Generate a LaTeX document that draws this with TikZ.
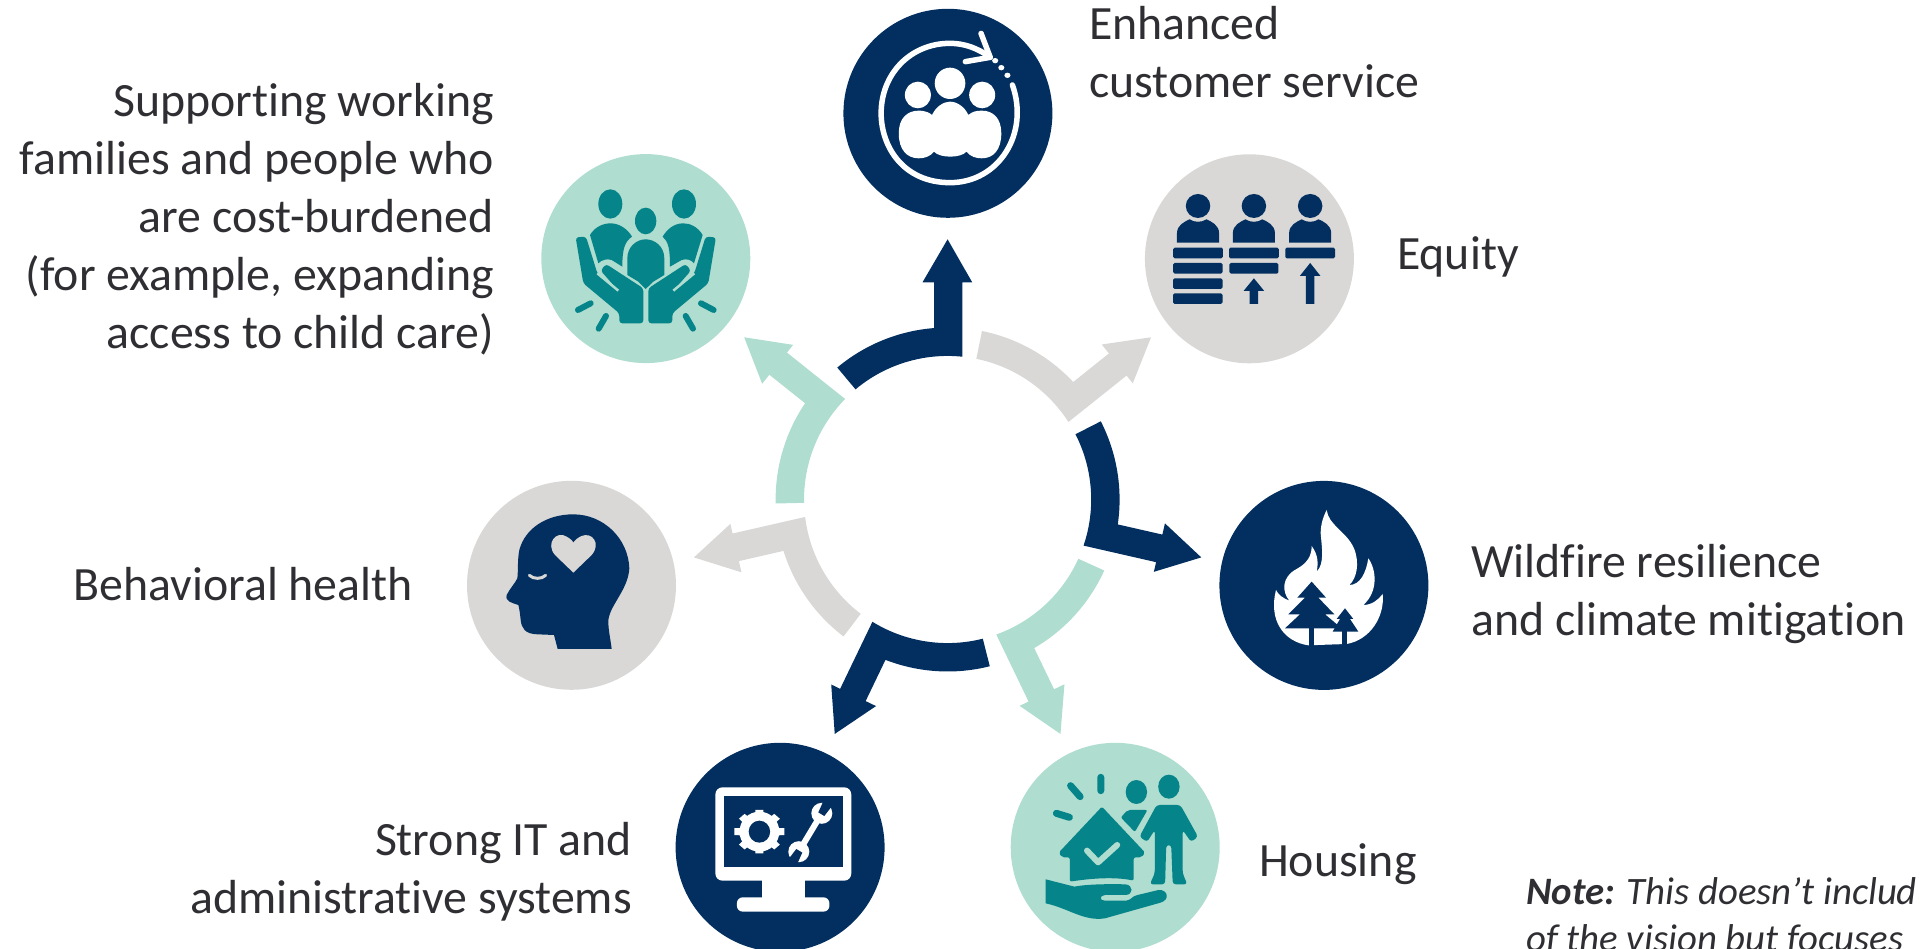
\documentclass[tikz,border=0pt]{standalone}
\usepackage{fontspec}
\setmainfont{Carlito}[RawFeature={-liga;-clig;-dlig}]
\definecolor{navy}{HTML}{022F5F}
\definecolor{mint}{HTML}{AFDDD0}
\definecolor{stone}{HTML}{D9D8D6}
\definecolor{deepteal}{HTML}{05848A}
\definecolor{inkc}{HTML}{2F2E33}
\tikzset{
  disc/.style={circle,inner sep=0pt,minimum size=209pt,fill=#1},
  lbl/.style={text=inkc,font=\fontsize{47.8}{58}\selectfont,inner sep=0pt,align=left},
  lblr/.style={text=inkc,font=\fontsize{47.8}{58}\selectfont,inner sep=0pt,align=right},
  notetext/.style={text=inkc,font=\fontsize{38.8}{47}\selectfont\itshape,inner sep=0pt,align=left},
  zoomA/.style={shift={(800,0)},xscale=0.3827,yscale=0.3333},
  zoomB/.style={shift={(480,120)},xscale=0.3333,yscale=0.3333},
  zoomC/.style={shift={(640,730)},xscale=0.3827,yscale=0.3333},
  zoomD/.style={shift={(1200,470)},xscale=0.3333,yscale=0.3333},
  zoomE/.style={shift={(460,480)},xscale=0.3333,yscale=0.3333},
}
\newcommand{\ringarrow}[2]{%
  \begin{scope}[shift={(947.6,-499.5)},rotate=#1]
    \fill[#2] (129.9:172) arc[start angle=129.9,end angle=94.53,radius=172]
      -- (-13.6,217.2) -- (-25.1,217.2) -- (0,260.2) -- (24.6,217.2) -- (14.7,217.2)
      -- (14.7,142.8) arc[start angle=84.1,end angle=129.9,radius=143.5] -- cycle;
  \end{scope}}
\begin{document}
\begin{tikzpicture}[x=1pt,y=1pt]
\useasboundingbox (0,0) rectangle (1921,-949);
\clip (0,0) rectangle (1921,-949);
% ring arrows
\ringarrow{0}{navy}
\ringarrow{-51.43}{stone}
\ringarrow{-102.86}{navy}
\ringarrow{-154.29}{mint}
\ringarrow{-205.71}{navy}
\ringarrow{-257.14}{stone}
\ringarrow{-308.57}{mint}
% discs
\node[disc=navy]  (service)  at (947.9,-113.3) {};
\node[disc=stone] (equity)   at (1249.4,-258.8) {};
\node[disc=navy]  (wildfire) at (1323.9,-585.4) {};
\node[disc=mint]  (housing)  at (1115.2,-847.3) {};
\node[disc=navy]  (it)       at (780.1,-847.3) {};
\node[disc=stone] (health)   at (571.5,-585.3) {};
\node[disc=mint]  (family)   at (645.8,-258.6) {};
% labels
\node[lbl,anchor=north west] (lservice) at (1089,-6) {Enhanced\\customer service};
\node[lbl,anchor=base west] (lequity) at (1397,-270) {Equity};
\node[lbl,anchor=north west] (lwild) at (1471,-544) {Wildfire resilience\\and climate mitigation};
\node[lbl,anchor=base west] (lhouse) at (1259,-876) {Housing};
\node[lblr,anchor=north east] (lit) at (632,-822) {Strong IT and\\administrative systems};
\node[lbl,anchor=base west] (lhealth) at (73.5,-600) {Behavioral health};
\node[lblr,anchor=north east] (lfam) at (494,-83) {Supporting working\\families and people who\\are cost-burdened\\(for example, expanding\\access to child care)};
\node[notetext,anchor=north west] (note) at (1526,-877) {\textbf{Note:} This doesn’t includ\\of the vision but focuses};
% icons in pixel coordinates
\begin{scope}[yscale=-1]
  % --- enhanced customer service
  \begin{scope}[zoomA]
    \draw[white,line width=5.5pt,line cap=round] (555,255) .. controls (600,400) and (520,548) .. (392,548)
      .. controls (270,548) and (212,440) .. (212,340) .. controls (212,220) and (290,130) .. (392,130)
      .. controls (430,130) and (465,145) .. (497,172);
    \draw[white,line width=5.5pt,line cap=round,line join=round] (473,100) -- (497,172) -- (432,185);
    \fill[white] (510,182) ellipse[x radius=8,y radius=8] (526,203) ellipse[x radius=8,y radius=8] (542,226) ellipse[x radius=8,y radius=8];
    \fill[white] (392,250) ellipse[x radius=40,y radius=47];
    \fill[white] (308,285) ellipse[x radius=34,y radius=40];
    \fill[white] (476,285) ellipse[x radius=34,y radius=40];
    \fill[white] (258,400) .. controls (258,355) and (280,332) .. (310,332) .. controls (330,332) and (340,340) .. (345,345)
      .. controls (355,320) and (375,305) .. (392,305) .. controls (410,305) and (430,320) .. (440,345)
      .. controls (450,335) and (460,332) .. (475,332) .. controls (505,332) and (526,355) .. (526,400)
      .. controls (526,450) and (505,475) .. (475,475) .. controls (460,475) and (445,470) .. (435,455)
      .. controls (420,475) and (365,475) .. (350,455) .. controls (340,470) and (325,475) .. (310,475)
      .. controls (280,475) and (258,450) .. (258,400) -- cycle;
  \end{scope}
  % --- equity
  \begin{scope}[zoomA,navy]
    \foreach \p in {1040,1186,1333}{
      \fill[navy] (\p,618) ellipse[x radius=32,y radius=36];
      \fill[navy] (\p-55,728) -- (\p-55,700) .. controls (\p-55,675) and (\p-35,665) .. (\p-22,658)
        .. controls (\p-10,668) and (\p+10,668) .. (\p+22,658) .. controls (\p+35,665) and (\p+55,675) .. (\p+55,700) -- (\p+55,728) -- cycle;
      \fill[navy,rounded corners=1.5pt] (\p-65,743) rectangle (\p+65,775);
    }
    \fill[navy,rounded corners=1.5pt] (975,789) rectangle (1104,821);
    \fill[navy,rounded corners=1.5pt] (975,835) rectangle (1104,867);
    \fill[navy,rounded corners=1.5pt] (975,880) rectangle (1104,912);
    \fill[navy,rounded corners=1.5pt] (1122,789) rectangle (1250,821);
    \fill[navy] (1186,835) -- (1213,873) -- (1197,873) -- (1197,912) -- (1175,912) -- (1175,873) -- (1159,873) -- cycle;
    \fill[navy] (1333,789) -- (1360,828) -- (1344,828) -- (1344,912) -- (1322,912) -- (1322,828) -- (1306,828) -- cycle;
  \end{scope}
  % --- families
  \begin{scope}[zoomB]
    \fill[deepteal] (391,252) ellipse[x radius=36,y radius=44];
    \fill[deepteal] (612,252) ellipse[x radius=36,y radius=44];
    \fill[deepteal] (497,303) ellipse[x radius=32,y radius=40];
    \fill[deepteal] (330,345) .. controls (345,320) and (370,310) .. (392,310) .. controls (420,310) and (445,330) .. (456,350)
      .. controls (435,365) and (427,385) .. (427,440) -- (395,420) .. controls (380,415) and (365,420) .. (355,430) -- cycle;
    \fill[deepteal] (668,345) .. controls (653,320) and (630,310) .. (610,310) .. controls (580,310) and (560,330) .. (548,350)
      .. controls (565,365) and (570,385) .. (570,440) -- (605,420) .. controls (620,415) and (635,420) .. (642,430) -- cycle;
    \fill[deepteal] (442,465) -- (442,415) .. controls (442,380) and (470,358) .. (497,358) .. controls (525,358) and (553,380) .. (553,415)
      -- (553,465) -- (520,485) -- (497,507) -- (475,485) -- cycle;
    \foreach \s/\o in {1/0,-1/995}{
      \begin{scope}[shift={(\o,0)},xscale=\s]
        \fill[deepteal,rounded corners=3pt] (287,352) -- (318,350) -- (352,460) -- (415,512) -- (362,452) -- (378,432) -- (490,505) -- (490,610) -- (418,610) -- (418,580) -- (310,490) -- cycle;
        \draw[mint,line width=2.5pt] (352,460) -- (415,512);
        \draw[deepteal,line width=6pt,line cap=round] (294,570) -- (332,550) (356,626) -- (378,588);
      \end{scope}}
  \end{scope}
  % --- IT
  \begin{scope}[zoomC]
    \fill[white,rounded corners=7pt] (197,172) rectangle (552,452);
    \fill[navy] (219,198) rectangle (530,410);
    \fill[white] (318,445) rectangle (430,510);
    \fill[white,rounded corners=6pt] (253,545) -- (253,502) -- (495,502) -- (495,545) -- cycle;
    \fill[white] (312,305) ellipse[x radius=52,y radius=60];
    \foreach \a in {0,45,...,315}{
      \fill[white] (312,305) ++(\a-9:66) -- ++(0:0) -- ([shift={(312,305)}]\a+9:66) -- ([shift={(312,305)}]\a+14:46) -- ([shift={(312,305)}]\a-14:46) -- cycle;
    }
    \fill[navy] (312,305) ellipse[x radius=28,y radius=33];
    \draw[white,line width=6pt] (415,365) -- (475,250);
  \end{scope}
  \fill[white] (821.8,813.3) circle[radius=10.5];
  \fill[white] (798.8,851.7) circle[radius=10.5];
  \fill[navy] (824.3,816) -- (818.3,812.4) -- (823.7,800.4) -- (832.3,805.6) -- cycle;
  \fill[navy] (802.3,852.6) -- (796.3,849) -- (788.3,859.4) -- (796.9,864.6) -- cycle;
  % --- housing
  \begin{scope}[zoomC]
    \draw[deepteal,line width=7pt,line cap=round] (1204,142) -- (1204,182) (1125,167) -- (1150,200) (1088,250) -- (1122,262);
    \fill[deepteal] (1297,186) ellipse[x radius=28,y radius=36];
    \fill[deepteal] (1382,170) ellipse[x radius=28,y radius=36];
    \fill[deepteal,rounded corners=2pt] (1256,262) -- (1275,240) -- (1326,240) -- (1293,306) -- cycle;
    \fill[deepteal,rounded corners=3pt] (1350,225) -- (1412,225) -- (1458,320) -- (1440,336) -- (1418,300) -- (1418,430) -- (1430,463) -- (1392,463) -- (1388,345) -- (1375,345) -- (1372,463) -- (1332,463) -- (1345,430) -- (1345,300) -- (1325,336) -- (1305,320) -- cycle;
    \fill[deepteal,rounded corners=2pt] (1207,230) -- (1320,368) -- (1310,382) -- (1290,382) -- (1290,452) .. controls (1240,440) and (1180,445) .. (1123,455) -- (1123,382) -- (1103,382) -- (1094,368) -- cycle;
    \draw[mint,line width=6pt,line cap=round,line join=round] (1168,362) -- (1197,397) -- (1247,345);
    \fill[deepteal] (1060,448) -- (1135,470) .. controls (1170,462) and (1230,462) .. (1268,463)
      .. controls (1290,465) and (1290,495) .. (1268,495) -- (1215,495) .. controls (1200,497) and (1200,512) .. (1215,512)
      -- (1270,512) .. controls (1285,510) and (1285,498) .. (1300,495) -- (1355,480) .. controls (1380,478) and (1385,510) .. (1360,518)
      -- (1215,565) .. controls (1160,575) and (1120,535) .. (1060,520) -- cycle;
  \end{scope}
  % --- wildfire
  \begin{scope}[zoomD]
    \fill[white] (228,360) .. controls (235,375) and (250,385) .. (268,392) .. controls (245,365) and (245,320) .. (290,297)
      .. controls (320,280) and (335,260) .. (335,228) .. controls (355,255) and (355,280) .. (350,305)
      .. controls (375,280) and (365,230) .. (362,190) .. controls (362,160) and (372,135) .. (380,120)
      .. controls (385,165) and (440,185) .. (462,235) .. controls (480,280) and (470,325) .. (448,345)
      .. controls (480,345) and (498,310) .. (505,265) .. controls (530,300) and (535,365) .. (490,405)
      .. controls (515,405) and (535,390) .. (548,372) .. controls (555,440) and (510,510) .. (440,522)
      -- (325,526) .. controls (250,515) and (205,450) .. (228,360) -- cycle;
    \fill[navy] (335,335) -- (378,383) -- (355,383) -- (403,433) -- (375,433) -- (425,475) -- (255,475) -- (300,433) -- (265,433) -- (315,383) -- (292,383) -- cycle;
    \fill[navy] (326,470) rectangle (342,530);
    \fill[navy] (435,415) -- (460,447) -- (450,447) -- (475,485) -- (398,485) -- (420,447) -- (410,447) -- cycle;
    \fill[navy] (427,480) rectangle (442,525);
  \end{scope}
  % --- behavioural health
  \begin{scope}[zoomE]
    \fill[navy] (140,345) .. controls (150,325) and (165,310) .. (172,295) .. controls (175,270) and (172,240) .. (178,210)
      .. controls (195,145) and (260,103) .. (340,103) .. controls (430,103) and (505,175) .. (508,265)
      .. controls (505,330) and (445,380) .. (445,425) .. controls (445,450) and (452,480) .. (455,507)
      -- (293,507) -- (282,465) -- (232,463) .. controls (195,462) and (185,445) .. (182,420)
      .. controls (180,400) and (178,385) .. (175,375) .. controls (155,368) and (135,365) .. (140,345) -- cycle;
    \fill[stone] (340,278) -- (285,225) .. controls (255,190) and (290,150) .. (320,170) .. controls (330,175) and (338,183) .. (340,188)
      .. controls (345,180) and (355,172) .. (365,168) .. controls (395,155) and (425,190) .. (395,225) -- cycle;
    \draw[stone,line width=3pt,line cap=round] (208,286) .. controls (220,298) and (245,298) .. (257,286);
  \end{scope}
\end{scope}
\end{tikzpicture}
\end{document}
